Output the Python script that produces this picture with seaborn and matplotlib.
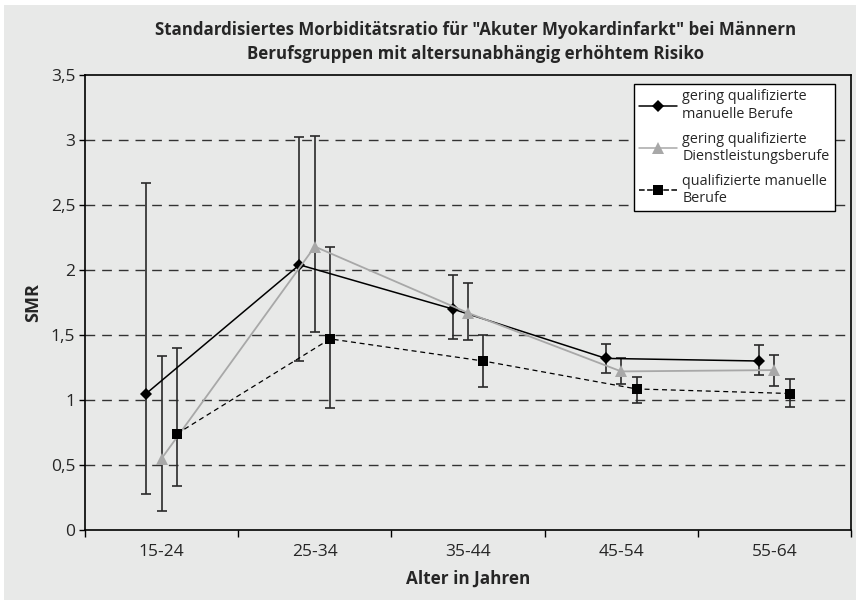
import numpy as np
import pandas as pd
import seaborn as sns
import matplotlib.pyplot as plt
from matplotlib.patches import Rectangle
from matplotlib.lines import Line2D

# age groups and SMR values
age_groups = ["15-24", "25-34", "35-44", "45-54", "55-64"]
series_names = [
    "gering qualifizierte\nmanuelle Berufe",
    "gering qualifizierte\nDienstleistungsberufe",
    "qualifizierte manuelle\nBerufe",
]
smr_manual_low = [1.05, 2.04, 1.70, 1.32, 1.30]
ci_lo_manual_low = [0.28, 1.30, 1.47, 1.21, 1.19]
ci_hi_manual_low = [2.67, 3.02, 1.96, 1.43, 1.42]

smr_service_low = [0.55, 2.18, 1.67, 1.22, 1.23]
ci_lo_service_low = [0.15, 1.52, 1.46, 1.12, 1.11]
ci_hi_service_low = [1.34, 3.03, 1.90, 1.32, 1.35]

smr_manual_qual = [0.74, 1.47, 1.30, 1.085, 1.05]
ci_lo_manual_qual = [0.34, 0.94, 1.10, 0.98, 0.95]
ci_hi_manual_qual = [1.40, 2.18, 1.50, 1.18, 1.16]

offsets = [-0.1, 0.0, 0.1]
colors = ["#000000", "#a8a8a8", "#000000"]
markers = ["D", "^", "s"]
msizes = [6, 8, 7]

all_smr = [smr_manual_low, smr_service_low, smr_manual_qual]
all_lo = [ci_lo_manual_low, ci_lo_service_low, ci_lo_manual_qual]
all_hi = [ci_hi_manual_low, ci_hi_service_low, ci_hi_manual_qual]

# long format table for seaborn
rows = []
for name, off, vals in zip(series_names, offsets, all_smr):
    for i, v in enumerate(vals):
        rows.append({"pos": i + off, "SMR": v, "Gruppe": name})
df = pd.DataFrame(rows)

sns.set_theme(style="white")
plt.rcParams["font.family"] = ["Open Sans", "DejaVu Sans"]

bg = "#e8e9e8"
fig = plt.figure(figsize=(8.56, 6.0), dpi=100, facecolor="white")
fig.patches.append(Rectangle((4 / 856, 0), 1, 595 / 600, transform=fig.transFigure,
                             facecolor=bg, edgecolor="none", zorder=-10))
ax = fig.add_axes([85 / 856, 1 - 530 / 600, 766 / 856, 455 / 600])
ax.set_facecolor(bg)

# horizontal dashed grid
for yv in [0.5, 1, 1.5, 2, 2.5, 3]:
    ax.axhline(yv, color="#333333", lw=1.0, dashes=(7, 5), zorder=0)

# error bars
for off, vals, lo, hi in zip(offsets, all_smr, all_lo, all_hi):
    x = np.arange(len(age_groups)) + off
    v = np.array(vals)
    yerr = [v - np.array(lo), np.array(hi) - v]
    ax.errorbar(x, v, yerr=yerr, fmt="none", ecolor="#2a2a2a", elinewidth=1.2,
                capsize=3.5, capthick=1.2, zorder=2)

sns.lineplot(data=df, x="pos", y="SMR", hue="Gruppe", style="Gruppe",
             palette=dict(zip(series_names, colors)),
             markers=dict(zip(series_names, markers)),
             dashes={series_names[0]: "", series_names[1]: "", series_names[2]: (4, 3)},
             linewidth=1.1, markeredgewidth=0, legend=False, ax=ax, zorder=3)
for line, ms in zip(ax.lines[-3:], msizes):
    line.set_markersize(ms)
ax.lines[-2].set_linewidth(1.3)
ax.lines[-1].set_linewidth(0.9)

ax.set_xlim(-0.5, 4.5)
ax.set_ylim(0, 3.5)
ax.set_xticks(range(len(age_groups)))
ax.set_xticklabels(age_groups, fontsize=12.5)
ax.set_xticks(np.arange(-0.5, 5, 1), minor=True)
ax.tick_params(axis="x", which="major", length=0, pad=10)
ax.tick_params(axis="x", which="minor", length=5, width=1, color="black", direction="out")
ax.set_yticks(np.arange(0, 3.6, 0.5))
ax.set_yticklabels(["0", "0,5", "1", "1,5", "2", "2,5", "3", "3,5"], fontsize=12.5)
ax.tick_params(axis="y", length=4, width=1, color="black", direction="out", left=True, pad=3)
ax.tick_params(axis="x", which="minor", bottom=True)
for s in ax.spines.values():
    s.set_color("black")
    s.set_linewidth(1.2)

ax.set_xlabel("Alter in Jahren", fontsize=12.3, fontweight="bold", labelpad=7)
ax.set_ylabel("SMR", fontsize=13, fontweight="bold", labelpad=6)
fig.text(0.555, 0.93, 'Standardisiertes Morbiditätsratio für "Akuter Myokardinfarkt" bei Männern\n'
         "Berufsgruppen mit altersunabhängig erhöhtem Risiko",
         ha="center", va="center", fontsize=12.2, fontweight="bold", linespacing=1.4)

handles = [Line2D([], [], color=c, marker=m, markersize=ms, lw=1.1,
                  linestyle="--" if i == 2 else "-", markeredgewidth=0)
           for i, (c, m, ms) in enumerate(zip(colors, markers, msizes))]
leg = ax.legend(handles, series_names, loc="upper right", bbox_to_anchor=(0.988, 0.9955),
                fontsize=10.4, frameon=True, fancybox=False, framealpha=1,
                handlelength=2.6, labelspacing=0.7, borderpad=0.35, handletextpad=0.4)
leg.get_frame().set_edgecolor("black")
leg.get_frame().set_linewidth(1.0)

fig.savefig("out.png", dpi=100, facecolor="white")
